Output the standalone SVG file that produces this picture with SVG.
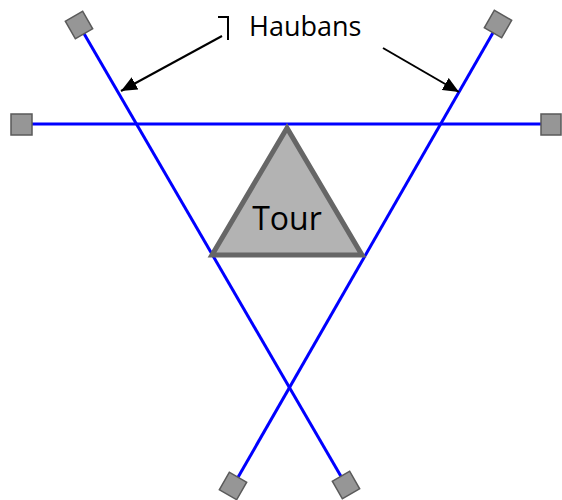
<svg xmlns="http://www.w3.org/2000/svg" width="562" height="500" viewBox="0 0 562 500">
<style>
.guy{stroke:#0000ff;stroke-width:3;fill:none}
.anchor{fill:#969696;stroke:#5a5a5a;stroke-width:1.5}
.call{stroke:#000;stroke-width:2;fill:none}
.lbl{font-family:"Open Sans","Liberation Sans",sans-serif;fill:#000}
</style>
<defs>
<marker id="ah" markerUnits="userSpaceOnUse" markerWidth="18" markerHeight="14" refX="16" refY="7" orient="auto">
<path d="M0,0 L16,7 L0,14 Z" fill="#000"/>
</marker>
</defs>
<rect width="562" height="500" fill="#fff"/>
<g id="connectors">
<line class="guy" x1="21" y1="124" x2="551" y2="124"/>
<line class="guy" x1="79" y1="25" x2="346" y2="485"/>
<line class="guy" x1="498" y1="24" x2="233" y2="486"/>
<path class="call" d="M218,17 L228,17 L228,40"/>
<line class="call" x1="222" y1="36" x2="121" y2="91" marker-end="url(#ah)"/>
<line class="call" x1="383" y1="48" x2="459" y2="92" marker-end="url(#ah)"/>
</g>
<g id="tour">
<polygon points="287,128 212,255 362,255" fill="#b3b3b3" stroke="#666" stroke-width="5"/>
<text class="lbl" x="287" y="230" font-size="32" text-anchor="middle">Tour</text>
</g>
<g id="anchor-left"><rect class="anchor" x="11" y="114" width="21" height="21"/></g>
<g id="anchor-right"><rect class="anchor" x="541" y="114" width="20" height="21"/></g>
<g id="anchor-top-left"><rect class="anchor" x="-10" y="-10" width="20" height="20" transform="translate(79,25) rotate(-30)"/></g>
<g id="anchor-top-right"><rect class="anchor" x="-10" y="-10" width="20" height="20" transform="translate(498,24) rotate(30)"/></g>
<g id="anchor-bottom-left"><rect class="anchor" x="-10" y="-10" width="20" height="20" transform="translate(233,486) rotate(30)"/></g>
<g id="anchor-bottom-right"><rect class="anchor" x="-10" y="-10" width="20" height="20" transform="translate(346,485) rotate(-30)"/></g>
<g id="label-haubans">
<text class="lbl" x="249" y="36" font-size="27">Haubans</text>
</g>
</svg>
